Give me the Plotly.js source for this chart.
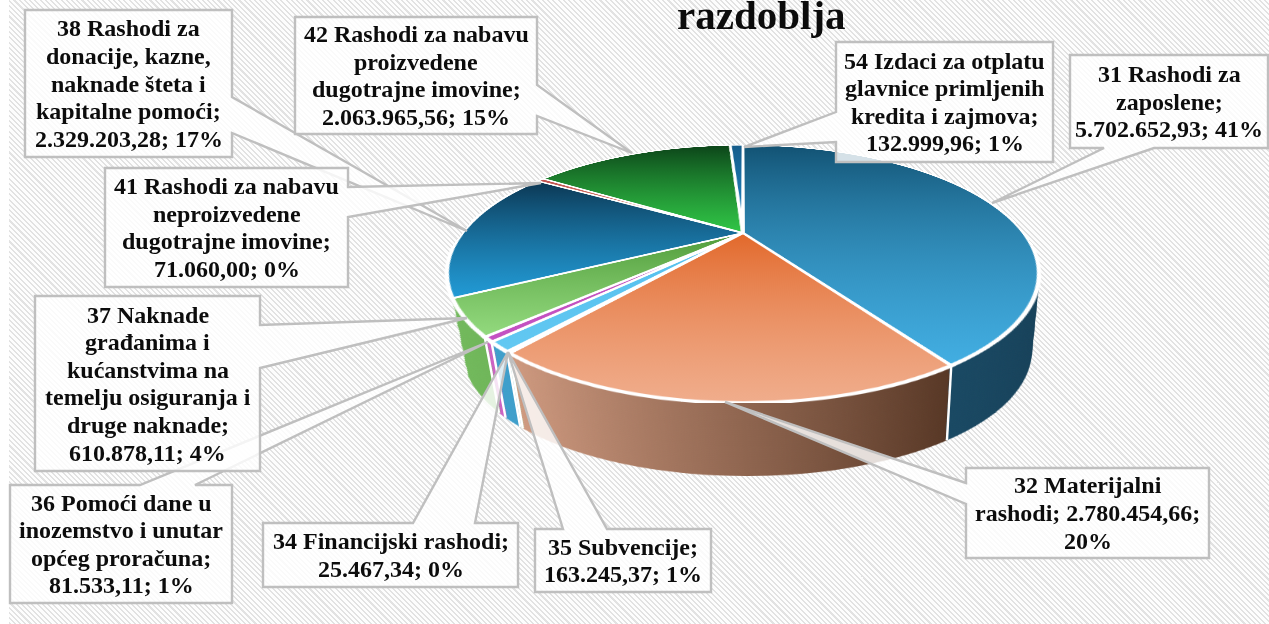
<!DOCTYPE html>
<html>
<head>
<meta charset="utf-8">
<script src="https://cdn.plot.ly/plotly-3.0.1.min.js"></script>
<style>
html,body{margin:0;padding:0;background:#fff;overflow:hidden}
#stage{position:relative;width:1269px;height:624px;overflow:hidden;background:#fff;filter:blur(0.6px)}
#hatch{position:absolute;left:9px;top:0;right:0;bottom:0;background:repeating-linear-gradient(45deg,#e2e2e2 0,#e2e2e2 1.5px,#fdfdfd 1.5px,#fdfdfd 3.7px)}
.pie{position:absolute;width:600px;height:600px;transform-origin:50% 50%}
#overlay{position:absolute;left:0;top:0;width:1269px;height:624px}
</style>
</head>
<body>
<div id="stage">
  <div id="hatch"></div>
  <div id="walls"></div>
  <div id="top" class="pie"></div>
  <div id="overlay"></div>
</div>
<svg width="0" height="0" style="position:absolute"><defs id="grads"></defs></svg>
<script>
// ---------- data ----------
const categories = ['31 Rashodi za zaposlene','32 Materijalni rashodi','34 Financijski rashodi','35 Subvencije',
  '36 Pomoći dane u inozemstvo i unutar općeg proračuna','37 Naknade građanima i kućanstvima na temelju osiguranja i druge naknade',
  '38 Rashodi za donacije, kazne, naknade šteta i kapitalne pomoći','41 Rashodi za nabavu neproizvedene dugotrajne imovine',
  '42 Rashodi za nabavu proizvedene dugotrajne imovine','54 Izdaci za otplatu glavnice primljenih kredita i zajmova'];
const values = [5702652.93,2780454.66,25467.34,163245.37,81533.11,610878.11,2329203.28,71060.00,2063965.56,132999.96];
const labels = [
  '31 Rashodi za<br>zaposlene;<br>5.702.652,93; 41%',
  '32 Materijalni<br>rashodi; 2.780.454,66;<br>20%',
  '34 Financijski rashodi;<br>25.467,34; 0%',
  '35 Subvencije;<br>163.245,37; 1%',
  '36 Pomoći dane u<br>inozemstvo i unutar<br>općeg proračuna;<br>81.533,11; 1%',
  '37 Naknade<br>građanima i<br>kućanstvima na<br>temelju osiguranja i<br>druge naknade;<br>610.878,11; 4%',
  '38 Rashodi za<br>donacije, kazne,<br>naknade šteta i<br>kapitalne pomoći;<br>2.329.203,28; 17%',
  '41 Rashodi za nabavu<br>neproizvedene<br>dugotrajne imovine;<br>71.060,00; 0%',
  '42 Rashodi za nabavu<br>proizvedene<br>dugotrajne imovine;<br>2.063.965,56; 15%',
  '54 Izdaci za otplatu<br>glavnice primljenih<br>kredita i zajmova;<br>132.999,96; 1%'
];
const titleText = 'razdoblja';
// ---------- colours ----------
const topDark   = ['#125273','#e2682a','#8fbf6f','#52bdec','#bd4cbb','#4f9a39','#0b3652','#c0504d','#0c4419','#155c8a'];
const topLight  = ['#42aee2','#f0ad8c','#a9d18e','#62c8f2','#c452c2','#93da7e','#229bd6','#e9a38a','#30c546','#2186c2'];
const wallLeft  = ['#1e5572','#cf9a80','#b8cfa8','#3f9fcb','#cc62c4','#72b95c','rgba(0,0,0,0)','rgba(0,0,0,0)','rgba(0,0,0,0)','rgba(0,0,0,0)'];
const wallRight = ['#163f57','#573725','#b8cfa8','#3a98c4','#c85cc0','#62a84d','rgba(0,0,0,0)','rgba(0,0,0,0)','rgba(0,0,0,0)','rgba(0,0,0,0)'];
// ---------- layout constants ----------
const apex = [743,233], R = 300;
const bx = 280.7, ay = 115.9, cy = -0.318;   // perspective of the tilted disc
const depth = 80, shrink = 0.04, drift = 4, layers = 40;
const boxes = [ // drawing order; index into labels, box, wedge
  {i:6, b:[25,10,232,157],  side:'r', w:[97,133],  tip:[467,231]},
  {i:8, b:[295,17,537,134], side:'r', w:[85,116], tip:[632,153]},
  {i:7, b:[105,168,348,287],side:'r', w:[187,217], tip:[541,183]},
  {i:4, b:[10,485,232,603], side:'t', w:[140,195], tip:[488,342]},
  {i:5, b:[35,296,260,471], side:'r', w:[325,368], tip:[467,318]},
  {i:2, b:[263,523,518,587],side:'t', w:[413,475], tip:[508,352]},
  {i:3, b:[535,529,711,592],side:'t', w:[563,607], tip:[508,352]},
  {i:1, b:[966,468,1209,558],side:'l',w:[483,504], tip:[725,402]},
  {i:9, b:[836,42,1053,162],side:'l', w:[112,142], tip:[744,147]},
  {i:0, b:[1070,55,1268,148],side:'bot',w:[1104,1154],tip:[992,203]}
];
const lineStep = 27.6, fontSize = 24;

function grad(id,c1,c2,vertical){
  const ns='http://www.w3.org/2000/svg';
  const g=document.createElementNS(ns,'linearGradient');
  g.setAttribute('id',id);g.setAttribute('x1','0');g.setAttribute('y1','0');
  g.setAttribute('x2',vertical?'0':'1');g.setAttribute('y2',vertical?'1':'0');
  [[0,c1],[1,c2]].forEach(([o,c])=>{const s=document.createElementNS(ns,'stop');
    s.setAttribute('offset',o);s.setAttribute('stop-color',c);g.appendChild(s);});
  document.getElementById('grads').appendChild(g);
}
values.forEach((v,i)=>{grad('top'+i,topDark[i],topLight[i],true);grad('wall'+i,wallLeft[i],wallRight[i],false);});

const pieConfig={staticPlot:true,displayModeBar:false};
function pieTrace(lineW){
  return [{type:'pie',labels:categories,values:values,sort:false,direction:'clockwise',rotation:0,
    textinfo:'none',hoverinfo:'none',showlegend:false,domain:{x:[0,1],y:[0,1]},
    marker:{colors:topLight,line:{color:'#ffffff',width:lineW}}}];
}
const pieLayout={width:600,height:600,margin:{l:0,r:0,t:0,b:0},paper_bgcolor:'rgba(0,0,0,0)',plot_bgcolor:'rgba(0,0,0,0)',showlegend:false};
function place(el,s,d,dx){
  el.style.left=(apex[0]+dx-R)+'px';el.style.top=(apex[1]+d-R)+'px';
  el.style.transform=`matrix3d(${bx*s/R},0,0,0, 0,${ay*s/R},0,${cy/R}, 0,0,1,0, 0,0,0,1)`;
}
function paint(el,prefix){
  el.querySelectorAll('.slice path.surface').forEach((p,i)=>{p.style.fill=`url(#${prefix}${i})`;});
}
// side wall: a stack of the same pie going down
const wallHost=document.getElementById('walls');
for(let k=layers;k>=1;k--){
  const d=document.createElement('div');d.className='pie';wallHost.appendChild(d);
  place(d,1-shrink*k/layers,depth*k/layers,drift*k/layers);
  Plotly.newPlot(d,pieTrace(0),pieLayout,pieConfig).then(()=>paint(d,'wall'));
}
const topEl=document.getElementById('top');
place(topEl,1,0,0);
Plotly.newPlot(topEl,pieTrace(4),pieLayout,pieConfig).then(()=>paint(topEl,'top'));

// projection of the disc's rim onto the page
function rim(deg,s,d,dx){
  const a=deg*Math.PI/180,x=Math.sin(a),y=-Math.cos(a),w=1+cy*y;
  return [apex[0]+dx+bx*s*x/w, apex[1]+d+ay*s*y/w];
}
const total=values.reduce((a,b)=>a+b,0);
const shapes=[];
let cum=0;
values.forEach(v=>{
  cum+=v;const deg=cum/total*360;
  if(deg>100&&deg<235){
    const p=rim(deg,1,0,0),q=rim(deg,1-shrink,depth,drift);
    shapes.push({type:'line',xref:'x',yref:'y',x0:p[0],y0:p[1],x1:q[0],y1:q[1],line:{color:'#ffffff',width:2.4}});
  }
});
const annotations=[];
boxes.forEach(c=>{
  const [x0,y0,x1,y1]=c.b,t=c.tip,w=c.w;let pts;
  if(c.side==='r') pts=[[x0,y0],[x1,y0],[x1,w[0]],t,[x1,w[1]],[x1,y1],[x0,y1]];
  if(c.side==='l') pts=[[x0,y0],[x1,y0],[x1,y1],[x0,y1],[x0,w[1]],t,[x0,w[0]]];
  if(c.side==='t') pts=[[x0,y0],[w[0],y0],t,[w[1],y0],[x1,y0],[x1,y1],[x0,y1]];
  if(c.side==='bot') pts=[[x0,y0],[x1,y0],[x1,y1],[w[1],y1],t,[w[0],y1],[x0,y1]];
  shapes.push({type:'path',xref:'x',yref:'y',path:'M'+pts.map(p=>p.join(' ')).join(' L')+' Z',
    fillcolor:'rgba(255,255,255,0.82)',line:{color:'#bfbfbf',width:2.4},layer:'above'});
  const lines=labels[c.i].split('<br>');
  const cx=(x0+x1)/2,cyy=(y0+y1)/2;
  lines.forEach((ln,j)=>annotations.push({xref:'x',yref:'y',x:cx,y:cyy+(j-(lines.length-1)/2)*lineStep,
    text:ln,showarrow:false,xanchor:'center',yanchor:'middle',
    font:{family:'Liberation Serif',size:fontSize,color:'#0c0c0c',weight:700}}));
});
annotations.push({xref:'x',yref:'y',x:761,y:15,text:titleText,showarrow:false,xanchor:'center',yanchor:'middle',
  font:{family:'Liberation Serif',size:41,color:'#0c0c0c',weight:700}});
Plotly.newPlot('overlay',[{type:'scatter',x:[],y:[],hoverinfo:'none',showlegend:false}],{
  width:1269,height:624,margin:{l:0,r:0,t:0,b:0},paper_bgcolor:'rgba(0,0,0,0)',plot_bgcolor:'rgba(0,0,0,0)',
  xaxis:{range:[0,1269],visible:false,fixedrange:true},
  yaxis:{range:[624,0],visible:false,fixedrange:true},
  shapes:shapes,annotations:annotations,showlegend:false
},pieConfig);
</script>
</body>
</html>
